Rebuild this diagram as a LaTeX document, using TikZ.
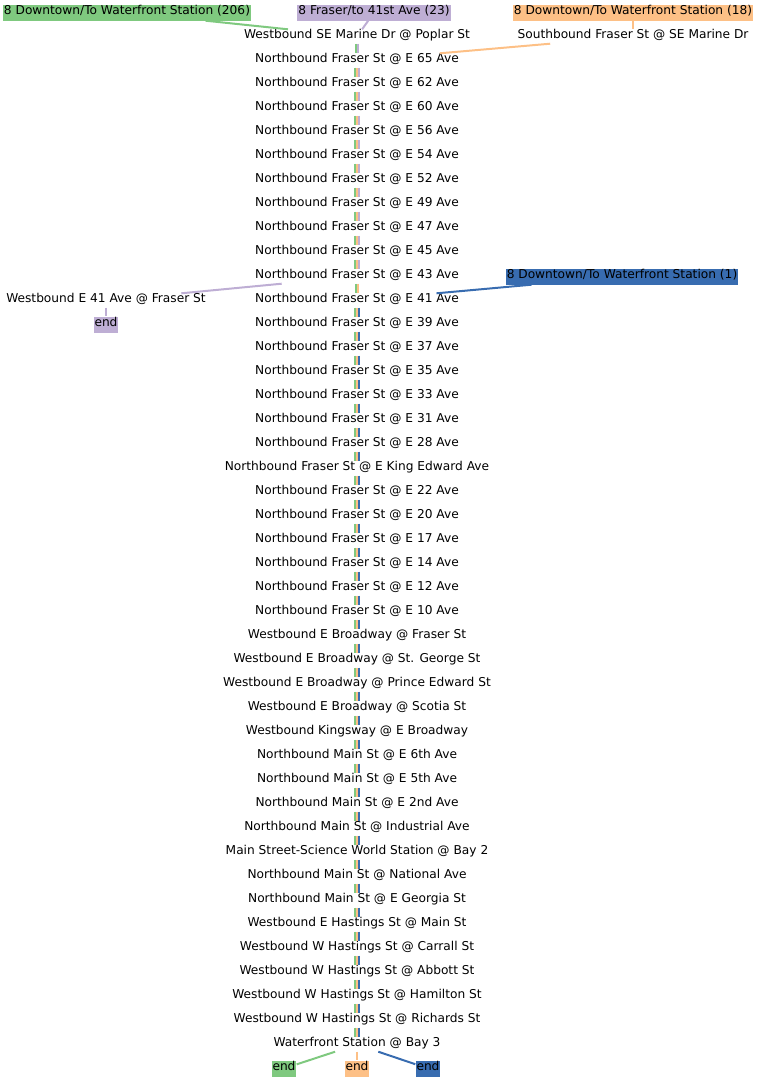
\documentclass[tikz,border=0pt]{standalone}
\usepackage{fontspec}
\setmainfont{DejaVu Sans}
\definecolor{rgreen}{HTML}{7FC97F}
\definecolor{rpurple}{HTML}{BEAED4}
\definecolor{rorange}{HTML}{FDC086}
\definecolor{rblue}{HTML}{386CB0}
\begin{document}
\begin{tikzpicture}[x=1pt,y=-1pt,
    stop/.style={font=\fontsize{12.2}{14}\selectfont,inner xsep=1pt,inner ysep=1pt,text height=8pt,text depth=4pt},
    route/.style={stop,fill=#1,inner ysep=2pt},
    link/.style={draw=#1,line width=2pt},
    lane/.style={line width=2pt}]
  \useasboundingbox (0,-1.5) rectangle (757,1078.5);
  \foreach \t [count=\i] in {Westbound SE Marine Dr @ Poplar St,
      Northbound Fraser St @ E 65 Ave, Northbound Fraser St @ E 62 Ave,
      Northbound Fraser St @ E 60 Ave, Northbound Fraser St @ E 56 Ave,
      Northbound Fraser St @ E 54 Ave, Northbound Fraser St @ E 52 Ave,
      Northbound Fraser St @ E 49 Ave, Northbound Fraser St @ E 47 Ave,
      Northbound Fraser St @ E 45 Ave, Northbound Fraser St @ E 43 Ave,
      Northbound Fraser St @ E 41 Ave, Northbound Fraser St @ E 39 Ave,
      Northbound Fraser St @ E 37 Ave, Northbound Fraser St @ E 35 Ave,
      Northbound Fraser St @ E 33 Ave, Northbound Fraser St @ E 31 Ave,
      Northbound Fraser St @ E 28 Ave, Northbound Fraser St @ E King Edward Ave,
      Northbound Fraser St @ E 22 Ave, Northbound Fraser St @ E 20 Ave,
      Northbound Fraser St @ E 17 Ave, Northbound Fraser St @ E 14 Ave,
      Northbound Fraser St @ E 12 Ave, Northbound Fraser St @ E 10 Ave,
      Westbound E Broadway @ Fraser St, Westbound E Broadway @ St. George St,
      Westbound E Broadway @ Prince Edward St, Westbound E Broadway @ Scotia St,
      Westbound Kingsway @ E Broadway, Northbound Main St @ E 6th Ave,
      Northbound Main St @ E 5th Ave, Northbound Main St @ E 2nd Ave,
      Northbound Main St @ Industrial Ave, Main Street-Science World Station @ Bay 2,
      Northbound Main St @ National Ave, Northbound Main St @ E Georgia St,
      Westbound E Hastings St @ Main St, Westbound W Hastings St @ Carrall St,
      Westbound W Hastings St @ Abbott St, Westbound W Hastings St @ Hamilton St,
      Westbound W Hastings St @ Richards St, Waterfront Station @ Bay 3}
    \node[stop] (s\i) at (357,11+24*\i) {\t};
  \node[stop] (sb) at (633,35) {Southbound Fraser St @ SE Marine Dr};
  \node[stop] (wb) at (106,299) {Westbound E 41 Ave @ Fraser St};
  \node[route=rgreen] (r206) at (127,11) {8 Downtown/To Waterfront Station (206)};
  \node[route=rpurple] (r23) at (374,11) {8 Fraser/to 41st Ave (23)};
  \node[route=rorange] (r18) at (633,11) {8 Downtown/To Waterfront Station (18)};
  \node[route=rblue] (r1) at (622,275) {8 Downtown/To Waterfront Station (1)};
  \node[route=rpurple] (endp) at (106,323) {end};
  \node[route=rgreen] (endg) at (284,1067) {end};
  \node[route=rorange] (endo) at (357,1067) {end};
  \node[route=rblue] (endb) at (428,1067) {end};
  % lanes between the stops
  \foreach \c/\d in {rgreen/-1,rpurple/1}
    \draw[lane,\c] ([xshift=\d pt]s1.south) -- ([xshift=\d pt]s2.north);
  \foreach \i in {2,...,10} {
    \pgfmathtruncatemacro\j{\i+1}
    \foreach \c/\d in {rgreen/-2,rorange/0,rpurple/2}
      \draw[lane,\c] ([xshift=\d pt]s\i.south) -- ([xshift=\d pt]s\j.north);
  }
  \foreach \c/\d in {rgreen/-1,rorange/1}
    \draw[lane,\c] ([xshift=\d pt]s11.south) -- ([xshift=\d pt]s12.north);
  \foreach \i in {12,...,42} {
    \pgfmathtruncatemacro\j{\i+1}
    \foreach \c/\d in {rgreen/-2,rorange/0,rblue/2}
      \draw[lane,\c] ([xshift=\d pt]s\i.south) -- ([xshift=\d pt]s\j.north);
  }
  % branches
  \draw[link=rgreen] (r206) -- (s1);
  \draw[link=rpurple] (r23) -- (s1);
  \draw[link=rorange] (r18) -- (sb);
  \draw[link=rorange] (sb) -- (s2);
  \draw[link=rpurple] (s11) -- (wb);
  \draw[link=rpurple] (wb) -- (endp);
  \draw[link=rblue] (r1) -- (s12);
  \draw[link=rgreen] (s43) -- (endg);
  \draw[link=rorange] (s43) -- (endo);
  \draw[link=rblue] (s43) -- (endb);
\end{tikzpicture}
\end{document}
